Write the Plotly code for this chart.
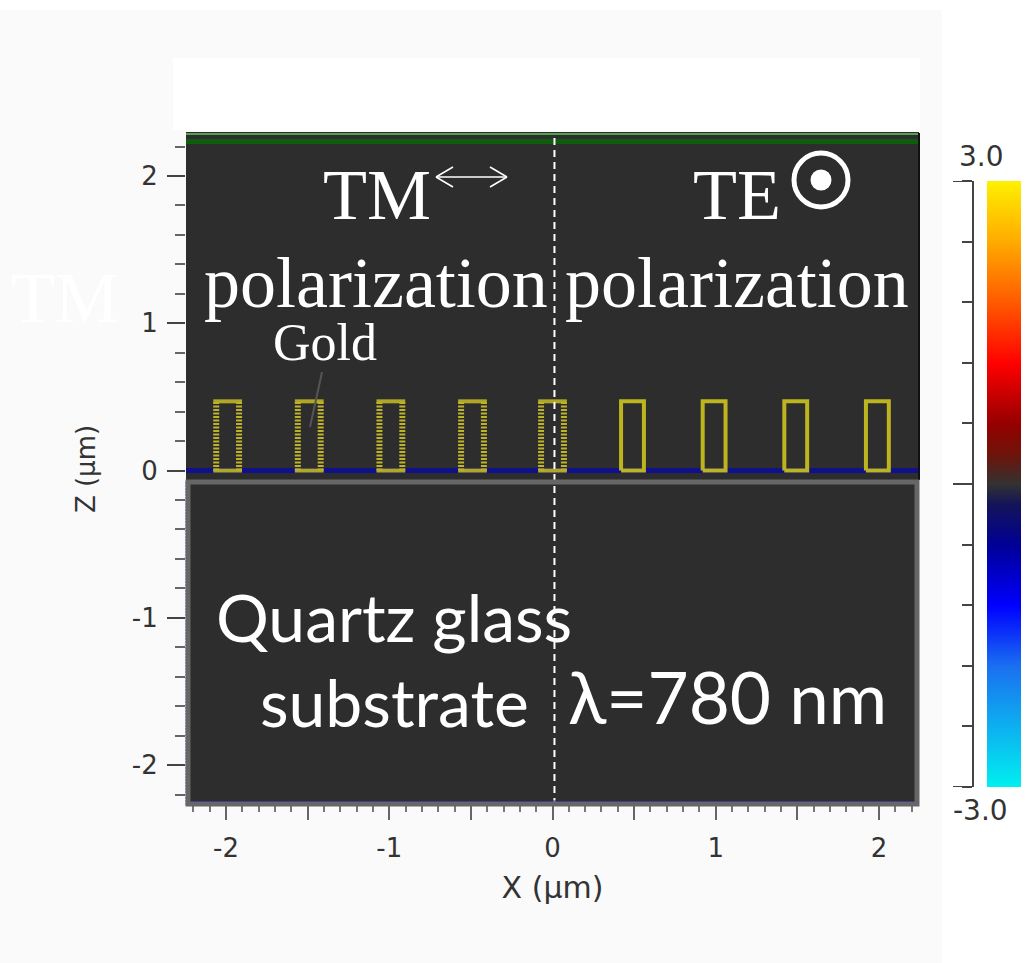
import plotly.graph_objects as go

W, H = 1026, 963

# ---- data ----
x_ticks = [-2, -1.5, -1, -0.5, 0, 0.5, 1, 1.5, 2]
x_tick_labels = ["-2", "", "-1", "", "0", "", "1", "", "2"]
z_ticks = [-2, -1, 0, 1, 2]
z_tick_labels = ["-2", "-1", "0", "1", "2"]
bar_centers_hatched = [-1.99, -1.49, -0.99, -0.49, 0.0]
bar_centers_solid = [0.49, 0.99, 1.49, 1.99]
bar_half_width = 0.07
bar_top = 0.47
bar_bottom = 0.0
interface_x = [-2.245, 2.245]
interface_z = [0.0, 0.0]
top_z = [2.234, 2.234]
divider_x = [0.012, 0.012]
divider_z = [-2.271, 2.292]
scale_levels = [-3.0, -2.75, -2.5, -2.25, -2.0, -1.75, -1.5, -1.25, -1.0, -0.75, -0.5, -0.25,
                0.0, 0.25, 0.5, 0.75, 1.0, 1.25, 1.5, 1.75, 2.0, 2.25, 2.5, 2.75, 3.0]
scale_ticks = [-3.0, -2.4, -1.8, -1.2, -0.6, 0.0, 0.6, 1.2, 1.8, 2.4, 3.0]
scale_major = [-3.0, 0.0, 3.0]


def px(x):
    return x / W


def py(y):
    return 1 - y / H


def rect_path(centers):
    xs, zs = [], []
    for c in centers:
        xs += [c - bar_half_width, c + bar_half_width, c + bar_half_width, c - bar_half_width, c - bar_half_width, None]
        zs += [bar_bottom, bar_bottom, bar_top, bar_top, bar_bottom, None]
    return xs, zs


def side_paths(centers):
    xs, zs = [], []
    for c in centers:
        for side in (c - bar_half_width, c + bar_half_width):
            xs += [side, side, None]
            zs += [bar_bottom, bar_top, None]
    return xs, zs


def cap_paths(centers):
    xs, zs = [], []
    for c in centers:
        for level in (bar_bottom, bar_top):
            xs += [c - bar_half_width - 0.018, c + bar_half_width + 0.018, None]
            zs += [level, level, None]
    return xs, zs


fig = go.Figure()

scale_colors = [
    [0.0, "rgb(0,240,240)"], [0.2, "rgb(26,112,240)"], [0.3, "rgb(0,0,255)"],
    [0.4, "rgb(0,0,150)"], [0.467, "rgb(20,20,90)"], [0.5, "rgb(50,50,50)"],
    [0.55, "rgb(110,20,10)"], [0.6, "rgb(150,0,0)"], [0.7, "rgb(255,0,0)"],
    [0.8, "rgb(255,90,0)"], [0.9, "rgb(255,170,0)"], [1.0, "rgb(255,240,0)"],
]
fig.add_trace(go.Heatmap(x=[0, 1], y=scale_levels, z=[[v, v] for v in scale_levels],
                         xaxis="x2", yaxis="y2", colorscale=scale_colors, zmin=-3, zmax=3,
                         showscale=False, zsmooth="best", hoverinfo="skip"))

fig.add_trace(go.Scatter(x=interface_x, y=top_z, mode="lines", line=dict(color="#0f5c0f", width=5), hoverinfo="skip"))
fig.add_trace(go.Scatter(x=interface_x, y=interface_z, mode="lines", line=dict(color="#10108a", width=5), hoverinfo="skip"))

cx, cz = cap_paths(bar_centers_hatched)
fig.add_trace(go.Scatter(x=cx, y=cz, mode="lines", line=dict(color="#b0a824", width=4), hoverinfo="skip"))
vx, vz = side_paths(bar_centers_hatched)
fig.add_trace(go.Scatter(x=vx, y=vz, mode="lines", line=dict(color="#bdb32a", width=6, dash="2px,1.5px"), hoverinfo="skip"))
sx, sz = rect_path(bar_centers_solid)
fig.add_trace(go.Scatter(x=sx, y=sz, mode="lines", line=dict(color="#bdb520", width=4), hoverinfo="skip"))

fig.add_trace(go.Scatter(x=divider_x, y=divider_z, mode="lines", line=dict(color="white", width=2, dash="7px,5px"), hoverinfo="skip"))

shapes = [
    dict(type="rect", xref="paper", yref="paper", x0=0, x1=px(942), y0=py(963), y1=py(10),
         fillcolor="#fafafa", line_width=0, layer="below"),
    dict(type="rect", xref="paper", yref="paper", x0=px(173), x1=px(920), y0=py(130), y1=py(58),
         fillcolor="#ffffff", line_width=0, layer="below"),
    dict(type="rect", xref="paper", yref="paper", x0=px(186), x1=px(919), y0=py(805), y1=py(132),
         fillcolor="#2d2d2d", line_width=0, layer="below"),
    dict(type="line", xref="paper", yref="paper", x0=px(186), x1=px(919), y0=py(134), y1=py(134),
         line=dict(color="#52a052", width=2)),
    dict(type="line", xref="paper", yref="paper", x0=px(919), x1=px(919), y0=py(133), y1=py(480),
         line=dict(color="#111111", width=2)),
    dict(type="line", xref="paper", yref="paper", x0=px(186), x1=px(186), y0=py(482), y1=py(805),
         line=dict(color="#4a58c8", width=1, dash="2px,1px")),
    dict(type="line", xref="paper", yref="paper", x0=px(190), x1=px(916), y0=py(801), y1=py(801),
         line=dict(color="#20208a", width=1)),
    dict(type="rect", xref="paper", yref="paper", x0=px(188), x1=px(917), y0=py(804), y1=py(482),
         line=dict(color="#666666", width=5)),
    dict(type="line", xref="paper", yref="paper", x0=px(322), x1=px(310), y0=py(372), y1=py(427),
         line=dict(color="#555555", width=2)),
    dict(type="circle", xref="paper", yref="paper", x0=px(794), x1=px(848), y0=py(207), y1=py(153),
         line=dict(color="white", width=5)),
    dict(type="circle", xref="paper", yref="paper", x0=px(810.5), x1=px(831.5), y0=py(190.5), y1=py(169.5),
         fillcolor="white", line_width=0),
    dict(type="line", xref="paper", yref="paper", x0=px(436), x1=px(507), y0=py(177), y1=py(177),
         line=dict(color="white", width=1.5)),
    dict(type="line", xref="paper", yref="paper", x0=px(436), x1=px(453), y0=py(177), y1=py(167),
         line=dict(color="white", width=1.5)),
    dict(type="line", xref="paper", yref="paper", x0=px(436), x1=px(453), y0=py(177), y1=py(187),
         line=dict(color="white", width=1.5)),
    dict(type="line", xref="paper", yref="paper", x0=px(507), x1=px(490), y0=py(177), y1=py(167),
         line=dict(color="white", width=1.5)),
    dict(type="line", xref="paper", yref="paper", x0=px(507), x1=px(490), y0=py(177), y1=py(187),
         line=dict(color="white", width=1.5)),
]

serif = "Liberation Serif"
sans = "Lato"


def label(text, x, y, size, family=serif, color="white", **kw):
    return dict(text=text, xref="paper", yref="paper", x=px(x), y=py(y), showarrow=False,
                font=dict(family=family, size=size, color=color), xanchor="center", yanchor="middle", **kw)


annotations = [
    label("TM", 377, 195, 72),
    label("TE", 737, 195, 72),
    label("polarization", 376, 283, 72),
    label("polarization", 737, 283, 72),
    label("TM", 65, 298, 72, color="#ffffff"),
    label("Gold", 325, 342, 52),
    label("Quartz glass", 394, 616, 66, family=sans),
    label("substrate", 394, 701, 66, family=sans),
    label("λ=780 nm", 727, 696, 71, family=sans),
    label("3.0", 981, 157, 28, family="DejaVu Sans", color="#333333"),
    label("-3.0", 980, 810, 28, family="DejaVu Sans", color="#333333"),
]

tick_font = dict(family="DejaVu Sans", size=26, color="#333333")
fig.update_layout(
    width=W, height=H, margin=dict(l=0, r=0, t=0, b=0), showlegend=False,
    paper_bgcolor="white", plot_bgcolor="#2d2d2d",
    shapes=shapes, annotations=annotations,
    xaxis=dict(domain=[px(186), px(919)], range=[-2.245, 2.245], tickvals=x_ticks, ticktext=x_tick_labels,
               ticks="outside", ticklen=14, tickcolor="#666666", tickwidth=2, tickfont=tick_font,
               ticklabelstandoff=6,
               showgrid=False, zeroline=False, showline=False, anchor="y",
               minor=dict(dtick=0.1, ticks="outside", ticklen=6, tickcolor="#777777", tickwidth=2, showgrid=False),
               title=dict(text="X (μm)", font=dict(family="DejaVu Sans", size=30, color="#333333"), standoff=14)),
    yaxis=dict(domain=[py(805), py(133)], range=[-2.271, 2.292], tickvals=z_ticks, ticktext=z_tick_labels,
               ticks="outside", ticklen=18, tickcolor="#444444", tickwidth=2, tickfont=tick_font,
               ticklabelstandoff=4,
               showgrid=False, zeroline=False, showline=False, anchor="x",
               minor=dict(dtick=0.2, ticks="outside", ticklen=10, tickcolor="#666666", tickwidth=2, showgrid=False),
               title=dict(text="Z (μm)", font=dict(family="DejaVu Sans", size=26, color="#333333"), standoff=28)),
    xaxis2=dict(domain=[px(987), px(1021)], range=[0, 1], visible=False, anchor="y2"),
    yaxis2=dict(domain=[py(787), py(181)], range=[-3, 3], anchor="free", position=px(973), side="left",
                tickvals=scale_ticks, ticktext=[""] * len(scale_ticks), ticks="outside", ticklen=10,
                tickcolor="#444444", tickwidth=2, showgrid=False, zeroline=False, showline=True,
                linecolor="#444444", linewidth=2),
)

for v in scale_major:
    fig.add_shape(type="line", xref="paper", yref="y2", x0=px(953), x1=px(973), y0=v, y1=v,
                  line=dict(color="#444444", width=2))

fig.write_html("out.html", config={"displayModeBar": False},
               post_script="document.body.style.margin='0';")
